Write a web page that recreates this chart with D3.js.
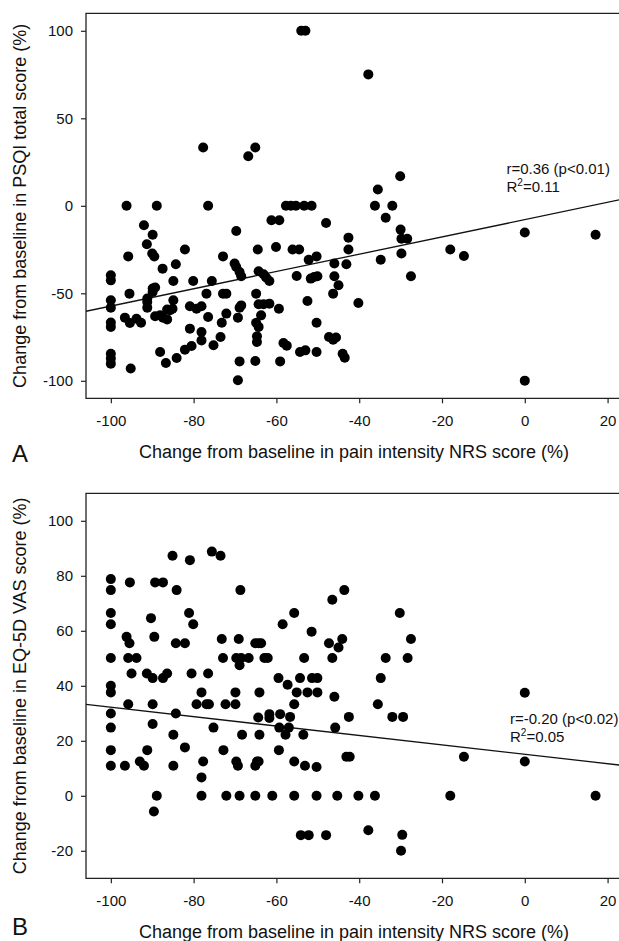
<!DOCTYPE html>
<html>
<head>
<meta charset="utf-8">
<script src="https://cdn.jsdelivr.net/npm/d3@7"></script>
<style>
  body { margin: 0; background: #fff; }
  text { font-family: Arial, "Liberation Sans", sans-serif; fill: #111; }
</style>
</head>
<body>
<div id="my_dataviz"></div>
<script>
// panel A: change in pain NRS (%) vs change in PSQI total score (%)
const painA = [-54, -53, -77.7, -66.8, -65.1, -96.2, -88.9, -76.5, -57.7, -56.5, -55.3, -53.3, -51.5, -36.2, -32,
    -37.8, -30.1, -35.5, -100, -100, -100, -100, -100, -100, -100, -100, -100,
    -92, -89.9, -91.3, -95.8, -90, -89.5, -82.1, -87.5, -84.3, -84.9, -80.1, -75.6, -72.9, -69.7, -70.1, -69.7, -68.9, -68.5,
    -64.5, -60.1, -61.2, -59.3, -64.3, -63.1, -62.5, -61.7, -56.1, -54.5, -55.1, -52.2, -50.3, -51.7, -50.9, -50.1, -48,
    -46, -46, -45, -46.3, -52.5, -50.3, -47.3, -46.3, -45.6, -44, -43.5, -54.3, -53, -50.3, -59.1, -58.3, -57.5, -59.4,
    -65.1, -68.9, -69.3, -64.9, -64.3, -63.1, -61.7, -63.7, -64.9, -64.3, -64.7, -64.7, -68.5, -68.9, -69.3, -72.9, -72.1,
    -72.1, -73.2, -73.5, -75.2, -76.9, -76.5, -78.1, -78.1, -80.9, -79.3, -78.1, -80.9, -80.5, -82.1, -84.1, -86.7, -88.1,
    -84.9, -85.1, -86.4, -85.7, -88.1, -89.3, -87.4, -86.4, -89.9, -89.3, -89.9, -91.2, -91.2, -91.2, -95.5, -96.6, -95.4,
    -93.8, -92.7, -95.2,
    -33.6, -30, -29.8, -28.4, -42.6, -42.6, -29.8, -34.8, -43.1, -40.2, -27.5, -18, -14.7, 0, 17.1, 0];
const psqiA = [100, 100, 33.3, 28.3, 33.3, 0, 0, 0, 0, 0, 0, 0, 0, 0, 0,
    75.1, 16.9, 9.3, -39.7, -42.6, -54, -58.2, -66.7, -69.2, -84.5, -87.3, -90.2,
    -11.1, -16.5, -22, -28.9, -27.3, -29, -25, -35.9, -33.4, -43, -43, -43, -28.9, -14.4, -33, -35, -37.8, -40.3,
    -25, -23.5, -8.3, -8.3, -37.4, -39.1, -41, -43, -25, -25, -40.1, -30.8, -28.9, -41.6, -40.7, -40.3, -9.8,
    -33, -40.3, -45.4, -50.2, -54.4, -66.8, -75, -76.5, -75.3, -84.5, -86.8, -83.5, -82.6, -83.5, -88.9, -78.4, -79.9, -58.8,
    -88.7, -88.9, -99.7, -50.2, -56.3, -56.3, -55.9, -62.6, -66.8, -69.2, -74.6, -77.8, -56.9, -58.2, -63.9, -50.2, -50.2,
    -61.6, -66.8, -75, -79.7, -50.2, -63.5, -72.1, -76.9, -57.4, -58.8, -57.4, -70.2, -80.1, -82.2, -87, -89.8, -83.5,
    -54, -58.8, -59.3, -59.7, -62.6, -63.1, -63.9, -64.9, -47.3, -46.7, -49.3, -53, -58.2, -55, -50.2, -63.9, -67,
    -64.5, -66.8, -93,
    -6.8, -13.6, -18.8, -18.8, -18.2, -25, -27.3, -30.8, -33.4, -55.5, -40.3, -25, -28.7, -15.3, -16.5, -99.9];

// panel B: change in pain NRS (%) vs change in EQ-5D VAS score (%)
const painB = [-100, -100, -100, -100, -100, -100, -100, -100, -100, -100, -100,
    -95.4, -96.2, -95.5, -95.8, -93.8, -95, -89.3, -87.4, -90.3, -89.5, -91.3, -89.9, -87.4, -86.4, -85.1, -84.1, -80.9,
    -81.1, -80.1, -84.3, -82.1, -80.5, -76.5, -75.6, -73.5, -68.7, -73.2, -72.9, -69.1, -69.7, -68.5, -68.9, -66.7, -65.1,
    -64.3, -63.7, -62.9, -62.1, -58.5, -55.7, -59.5, -57.3, -54.3, -53.3, -51.5, -51.4, -50.1, -46.5, -47.3, -46.5, -45,
    -43.6, -30.2, -44.1, -27.5, -33.6, -28.3, -34.8, 0,
    -96.6, -95.8, -93, -92, -91.2, -89.9, -89.9, -88.9, -89.6, -84.3, -84.9, -84.9, -82.1, -79.3, -78.1, -76.9, -76.3,
    -75.2, -77.7, -78.1, -78.1, -72.8, -72.1, -72.3, -69.9, -69.9, -69.7, -69.3, -68.3, -68.9, -65.1, -64.7, -64.3, -65.1,
    -64.1, -64.4, -64.1, -61.7, -61.7, -61, -59.1, -59.3, -57, -56.7, -57.8, -55.7, -55.1, -59.4, -55.7, -55.7, -53.5,
    -53.1, -54.1, -52.2, -52.5, -50.1, -50.3, -50.3, -48, -46, -45.8, -45.3,
    -35.5, -42.5, -32, -29.4, -43.1, -42.3, -14.7, 0, -40.2, -36.2, -18, 17.1, -37.8, -29.6, -29.9];
const eqB = [78.8, 74.8, 66.5, 62.4, 50.1, 40, 37.6, 29.9, 24.8, 16.6, 10.9,
    77.6, 57.8, 55.5, 50.1, 50.1, 44.5, 77.6, 77.6, 64.6, 57.8, 44.5, 42.8, 42.8, 44.5, 87.3, 74.8, 85.7,
    66.5, 62.4, 55.5, 55.5, 44.5, 44.5, 88.8, 87.3, 74.8, 57, 50.1, 57, 50.1, 50.1, 47.5, 50.1, 55.5,
    55.5, 55.5, 50.1, 50.1, 62.4, 66.5, 42.8, 40.4, 42.8, 50.1, 59.7, 42.8, 42.8, 71.3, 55.5, 50.1, 53.9,
    74.8, 66.5, 57, 57, 50.1, 50.1, 42.8, 37.5,
    10.9, 33.3, 12.5, 10.9, 16.6, 33.3, 26.1, 0, -5.7, 29.9, 22.2, 10.9, 17.6, 33.3, 37.6, 33.3, 33.3,
    24.8, 12.5, 6.7, 0, 16.6, 0, 33.3, 33.3, 37.6, 12.5, 10.9, 22.2, 0, 10.9, 12.5, 12.5, 0,
    37.6, 28.5, 22.2, 29.7, 28.3, 0, 29.7, 24.8, 24.8, 28.7, 22.2, 33.3, 37.6, 16.6, 12.5, 0, 22.2,
    10.9, -14.3, -14.3, 37.6, 37.6, 10.5, 0, -14.3, 36, 24.8, 0,
    33.3, 28.7, 28.7, 28.7, 14.2, 14.2, 14.2, 12.5, 0, 0, 0, 0, -12.5, -14.2, -20];

const xTicks = [-100, -80, -60, -40, -20, 0, 20];
const yTicksA = [-100, -50, 0, 50, 100];
const yTicksB = [-20, 0, 20, 40, 60, 80, 100];
// regression fits [intercept, slope]
const fitA = [-7.9, 0.494];
const fitB = [15.1, -0.171];
const statsA = ["r=0.36 (p<0.01)", "0.11"];
const statsB = ["r=-0.20 (p<0.02)", "0.05"];

const xTitle = "Change from baseline in pain intensity NRS score (%)";

var svg = d3.select("#my_dataviz").append("svg")
    .attr("width", 619)
    .attr("height", 941);

// plain hyphen minus, like the original
const fmt = d => String(d);

function drawPanel(p) {
    var x = d3.scaleLinear().domain([-106, 23]).range([86, 620]);
    var y = d3.scaleLinear().domain(p.yDomain).range([p.bottom, p.top]);

    var g = svg.append("g");

    // frame (right edge runs off the picture)
    g.append("path")
        .attr("d", "M625," + p.top + "H86V" + p.bottom + "H625")
        .attr("fill", "none")
        .attr("stroke", "#222")
        .attr("stroke-width", 1.3);

    var xAxis = g.append("g")
        .attr("transform", "translate(0," + p.bottom + ")")
        .call(d3.axisBottom(x).tickValues(xTicks).tickFormat(fmt).tickSize(5).tickPadding(12));
    var yAxis = g.append("g")
        .attr("transform", "translate(86,0)")
        .call(d3.axisLeft(y).tickValues(p.yTicks).tickFormat(fmt).tickSize(5).tickPadding(8));

    [xAxis, yAxis].forEach(a => {
        a.select(".domain").remove();
        a.selectAll("line").attr("stroke", "#222").attr("stroke-width", 1.2);
        a.selectAll("text").style("font-size", "15px")
            .style("font-family", "Arial, 'Liberation Sans', sans-serif").attr("fill", "#111");
    });

    g.append("defs").append("clipPath")
        .attr("id", "clip" + p.name)
        .append("rect")
        .attr("x", 86).attr("y", p.top)
        .attr("width", 540).attr("height", p.bottom - p.top);

    var plot = g.append("g").attr("clip-path", "url(#clip" + p.name + ")");

    plot.append("line")
        .attr("x1", x(-106)).attr("y1", y(p.fit[0] + p.fit[1] * -106))
        .attr("x2", x(23)).attr("y2", y(p.fit[0] + p.fit[1] * 23))
        .attr("stroke", "#111")
        .attr("stroke-width", 1.3);

    plot.append("g")
        .selectAll("circle")
        .data(p.xs.map((v, i) => ({ x: v, y: p.ys[i] })))
        .enter()
        .append("circle")
        .attr("cx", d => x(d.x))
        .attr("cy", d => y(d.y))
        .attr("r", 5)
        .attr("fill", "#000");

    // stats text
    g.append("text")
        .attr("x", p.statX).attr("y", p.statY)
        .style("font-size", "15px")
        .text(p.stats[0]);
    var r2 = g.append("text")
        .attr("x", p.statX).attr("y", p.statY + 18)
        .style("font-size", "15px");
    r2.append("tspan").text("R");
    r2.append("tspan").attr("dy", -6).style("font-size", "10px").text("2");
    r2.append("tspan").attr("dy", 6).text("=" + p.stats[1]);

    // axis titles
    g.append("text")
        .attr("x", 354).attr("y", p.bottom + 60)
        .attr("text-anchor", "middle")
        .style("font-size", "18px")
        .text(xTitle);
    g.append("text")
        .attr("transform", "translate(26," + (p.top + p.bottom) / 2 + ") rotate(-90)")
        .attr("text-anchor", "middle")
        .style("font-size", "18px")
        .text(p.yTitle);

    // panel letter
    g.append("text")
        .attr("x", 12).attr("y", p.letterY)
        .style("font-size", "24px")
        .text(p.name);
}

drawPanel({
    name: "A", top: 13.3, bottom: 398.3, yDomain: [-110, 110], yTicks: yTicksA,
    xs: painA, ys: psqiA, fit: fitA, stats: statsA, statX: 506.5, statY: 174, letterY: 461.5,
    yTitle: "Change from baseline in PSQI total score (%)"
});
drawPanel({
    name: "B", top: 493.3, bottom: 878.3, yDomain: [-30, 110], yTicks: yTicksB,
    xs: painB, ys: eqB, fit: fitB, stats: statsB, statX: 510, statY: 724, letterY: 935,
    yTitle: "Change from baseline in EQ-5D VAS score (%)"
});
</script>
</body>
</html>
